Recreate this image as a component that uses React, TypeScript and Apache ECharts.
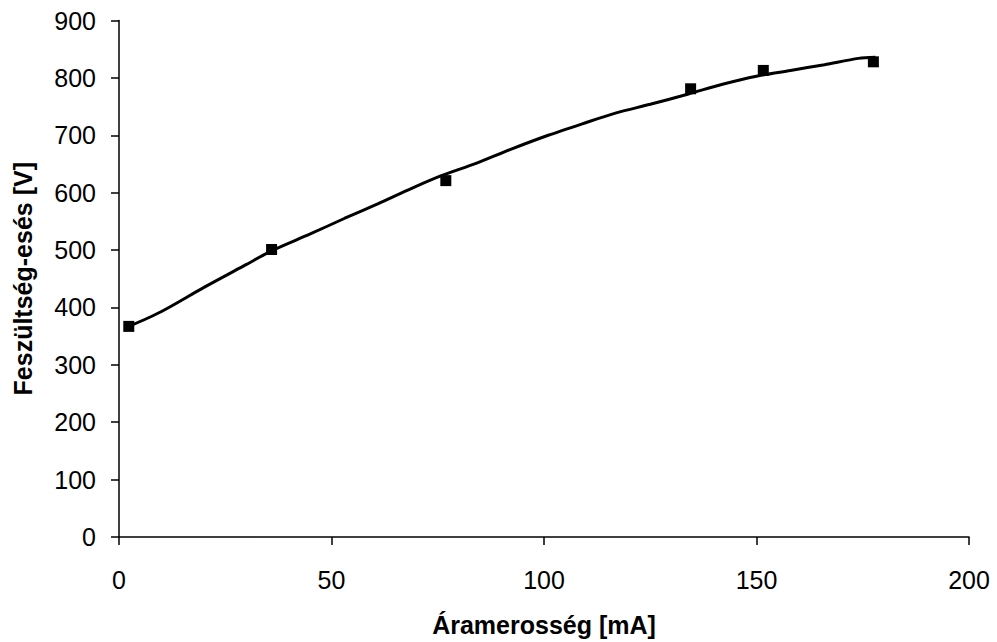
import React, { useEffect, useRef } from "react";
import * as echarts from "echarts";

const measuredX = [2.3, 35.9, 76.9, 134.5, 151.6, 177.5];
const measuredY = [367, 501, 621, 781, 813, 828];

const trendX = [2.3, 10, 20, 30, 36, 45, 53, 61, 69, 76, 84, 92, 101, 109, 117, 125, 134, 142, 150, 158, 166, 174, 178];
const trendY = [367, 393, 435, 475, 499, 528, 555, 581, 608, 630, 651, 675, 700, 720, 739, 754, 772, 789, 803, 813, 823, 834, 836];

const xTicks = [0, 50, 100, 150, 200];
const yTicks = [0, 100, 200, 300, 400, 500, 600, 700, 800, 900];

export default function App() {
  const ref = useRef<HTMLDivElement>(null);
  useEffect(() => {
    if (!ref.current) return;
    const chart = echarts.init(ref.current, undefined, { renderer: "svg" });
    const font = "Liberation Sans, Arial, sans-serif";
    chart.setOption({
      animation: false,
      backgroundColor: "#fff",
      grid: { left: 119, right: 28, top: 20.5, bottom: 102, containLabel: false },
      xAxis: {
        type: "value",
        min: xTicks[0],
        max: xTicks[xTicks.length - 1],
        interval: 50,
        name: "Áramerosség [mA]",
        nameLocation: "middle",
        nameGap: 75,
        nameTextStyle: { fontFamily: font, fontWeight: "bold", fontSize: 25, color: "#000" },
        axisLine: { lineStyle: { color: "#000", width: 1.5 } },
        axisTick: { show: true, inside: false, length: 8, lineStyle: { color: "#000", width: 1.5 } },
        axisLabel: { fontFamily: font, fontSize: 25, color: "#000", margin: 30 },
        splitLine: { show: false },
      },
      yAxis: {
        type: "value",
        min: yTicks[0],
        max: yTicks[yTicks.length - 1],
        interval: 100,
        name: "Feszültség-esés [V]",
        nameLocation: "middle",
        nameGap: 84,
        nameRotate: 90,
        nameTextStyle: { fontFamily: font, fontWeight: "bold", fontSize: 25, color: "#000" },
        axisLine: { show: true, lineStyle: { color: "#000", width: 1.5 } },
        axisTick: { show: true, inside: false, length: 8, lineStyle: { color: "#000", width: 1.5 } },
        axisLabel: { fontFamily: font, fontSize: 25, color: "#000", margin: 23, padding: [8, 0, 0, 0] },
        splitLine: { show: false },
      },
      series: [
        {
          type: "line",
          data: trendX.map((x, i) => [x, trendY[i]]),
          smooth: 0.3,
          showSymbol: false,
          lineStyle: { color: "#000", width: 3 },
          z: 2,
        },
        {
          type: "scatter",
          data: measuredX.map((x, i) => [x, measuredY[i]]),
          symbol: "rect",
          symbolSize: 11,
          itemStyle: { color: "#000", opacity: 1 },
          z: 3,
        },
      ],
    });
    return () => chart.dispose();
  }, []);
  return (
    <div
      ref={ref}
      style={{ position: "fixed", left: 0, top: 0, width: 997, height: 642, background: "#fff" }}
    />
  );
}
